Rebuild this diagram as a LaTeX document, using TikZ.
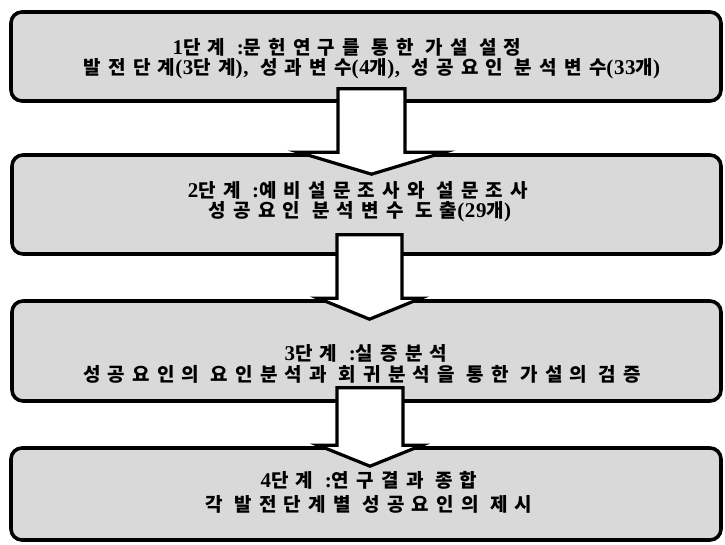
\documentclass[tikz,border=0pt]{standalone}
\usepackage{fontspec}
\usetikzlibrary{calc}
\newfontfamily\kr{Noto Sans CJK KR}[LetterSpace=38]
\newfontfamily\lat{Liberation Serif}[LetterSpace=3]
\newcommand\lt[1]{{\lat\fontsize{21}{19}\selectfont #1}}
\tikzset{
  stagebox/.style={draw=black, line width=3.6pt, rounded corners=11pt, fill=black!15, inner sep=0pt},
  stagetext/.style={inner sep=0pt, font=\kr\bfseries\fontsize{19}{21}\selectfont},
  blockarrow/.style={draw=black, fill=white, line width=3.2pt, line join=miter}
}
\newcommand\barrow[7]{%
  \coordinate (#1top) at (#3,0 |- #1.south);
  \coordinate (#2bot) at (#3,0 |- #2.north);
  \draw[blockarrow] ($(#1top)+(-#4,-#6)$) -- ($(#1top)+(#4,-#6)$) -- ($(#2bot)+(#4,-1)$) -- ($(#2bot)+(#5,-1)$) -- ($(#2bot)+(0,#7)$) -- ($(#2bot)+(-#5,-1)$) -- ($(#2bot)+(-#4,-1)$) -- cycle;
}
\begin{document}
\begin{tikzpicture}[x=1pt,y=-1pt]
\useasboundingbox[fill=white] (0,0) rectangle (725,544);
% boxes
\node[stagebox, minimum width=710pt, minimum height=89pt] (b1) at (366,56.5) {};
\node[stagebox, minimum width=709pt, minimum height=99pt] (b2) at (366.5,204.5) {};
\node[stagebox, minimum width=709pt, minimum height=100pt] (b3) at (366.5,351) {};
\node[stagebox, minimum width=710pt, minimum height=92pt] (b4) at (366,494) {};
% texts
\node[stagetext] (t1a) at (347,47) {\lt{1}단계 \lt{:}문헌연구를 통한 가설 설정};
\node[stagetext] (t1b) at (372,69) {발전단계\lt{(3}단계\lt{),} 성과변수\lt{(4}개\lt{),} 성공요인 분석변수\lt{(33}개\lt{)}};
\node[stagetext] (t2a) at (358,190) {\lt{2}단계 \lt{:}예비설문조사와 설문조사};
\node[stagetext] (t2b) at (360,212) {성공요인 분석변수 도출\lt{(29}개\lt{)}};
\node[stagetext] (t3a) at (366,353) {\lt{3}단계 \lt{:}실증분석};
\node[stagetext] (t3b) at (362,374) {성공요인의 요인분석과 회귀분석을 통한 가설의 검증};
\node[stagetext] (t4a) at (369,480) {\lt{4}단계 \lt{:}연구결과 종합};
\node[stagetext] (t4b) at (369,504) {각 발전단계별 성공요인의 제시};
% arrows
\barrow{b1}{b2}{371.5}{33.5}{73}{14}{21}
\barrow{b2}{b3}{369.5}{32.5}{51.5}{21}{20}
\barrow{b3}{b4}{370}{33}{52}{15}{20}
\end{tikzpicture}
\end{document}
